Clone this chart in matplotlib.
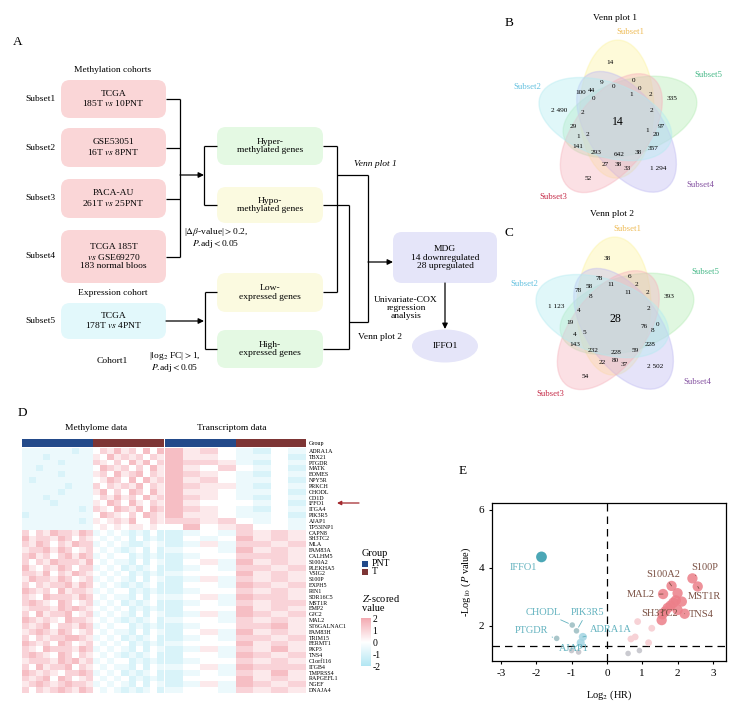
import numpy as np
import matplotlib.pyplot as plt
from matplotlib.patches import FancyBboxPatch, Ellipse, Rectangle
from matplotlib.colors import LinearSegmentedColormap, ListedColormap
import matplotlib as mpl

plt.rcParams['font.family'] = ['Liberation Serif', 'DejaVu Serif']
plt.rcParams['mathtext.fontset'] = 'stix'
plt.rcParams['axes.unicode_minus'] = False

W, H = 738, 708

# ---------------- data ----------------
venn1_counts = ['14', '9', '0', '0', '0', '100', '44', '0', '1', '2', '335', '2 490', '2', '2',
                '14', '29', '97', '1', '20', '1', '2', '141', '293', '642', '38', '357',
                '27', '38', '33', '1 294', '52']
venn2_counts = ['38', '78', '6', '11', '2', '78', '58', '8', '11', '2', '393', '1 123', '4', '2',
                '28', '19', '0', '76', '8', '4', '5', '143', '232', '228', '59', '228',
                '22', '80', '37', '2 502', '54']
venn_sets = ['Subset1', 'Subset5', 'Subset4', 'Subset3', 'Subset2']

genes = ['ADRA1A', 'TBX21', 'PTGDR', 'MATK', 'EOMES', 'NPY5R', 'PRKCH', 'CHODL', 'CD1D', 'IFFO1',
         'ITGA4', 'PIK3R5', 'AJAP1', 'TP53INP1', 'CAPN8', 'SH3TC2', 'MLA', 'FAM83A', 'CALHM5',
         'S100A2', 'PLEKHA5', 'VSIG2', 'S100P', 'EXPH5', 'RIN1', 'SDR16C5', 'MST1R', 'EMP2',
         'GJC2', 'MAL2', 'ST6GALNAC1', 'FAM83H', 'TRIM15', 'FERMT1', 'PKP3', 'TNS4', 'C1orf116',
         'ITGB4', 'TMPRSS4', 'RAPGEFL1', 'NGEF', 'DNAJA4']
meth_groups = ['PNT'] * 10 + ['T'] * 10
expr_groups = ['PNT'] * 4 + ['T'] * 4

# z-score codes: digit d -> (d - 4) / 2
meth_rows = [
    "33333332334657564747", "33323333335475656465", "33333233336546475746",
    "33233333334765646475", "33333233335647567465", "32333333334576474756",
    "33333323336465657465", "33333233335746476475", "33323333334657564756",
    "33332333335476475465", "33333333236547657476", "23333333334765464765",
    "33333333235456574465", "33333333334545455454",
    "64657665763434323242", "75665764654343424232", "65764657663434322343",
    "56675764564343234242", "67564675763434423232", "64657666574343324243",
    "75465764663434232342", "66574657654343423232", "57665764563434324243",
    "64656675764343232342", "76564756653434423232", "65476665764343324243",
    "67654764563434232342", "56665767654343423232", "64756674563434324243",
    "76565476654343232342", "65674665763434423232", "56765764564343324243",
    "64656677653434232342", "76564764564343423232", "65476665763434324243",
    "67654764654343232342", "56665767563434423232", "64756674654343324243",
    "76565466763434232342", "65674764564343423232", "56765676653434324243",
    "64656765764343232342",
]
expr_rows = [
    "75643243", "75543342", "76653243", "75464342", "76543243", "75643342", "76553243",
    "75543342", "76543243", "75444342", "76543243", "75543342", "66564343", "47456443",
    "23436565", "24347565", "23536656", "34437565", "23446665", "24537565", "23436656",
    "34447565", "23536565", "24437656", "23446565", "34537665", "23436566", "24447565",
    "23537656", "34436565", "23446675", "24537565", "23436656", "34447565", "23536575",
    "24437656", "23446565", "34537666", "23436575", "24447565", "23537656", "34436565",
]

vol_genes = ['IFFO1', 'CHODL', 'PIK3R5', 'PTGDR', 'ADRA1A', 'AJAP1', '', '', '', '',
             '', '', '', '', '',
             'S100P', 'MST1R', 'S100A2', 'MAL2', '', '', '', '', 'TNS4', 'SH3TC2',
             '', '', '', '', '']
vol_x = [-1.85, -0.98, -0.86, -1.42, -0.68, -0.74, -1.00, -0.80, 0.60, 0.92,
         0.68, 0.80, 0.87, 1.27, 1.18,
         2.42, 2.57, 1.83, 1.59, 2.00, 1.95, 2.12, 1.80, 2.20, 1.72,
         1.57, 1.55, 2.00, 1.88, 1.65]
vol_y = [4.38, 2.03, 1.83, 1.57, 1.62, 1.42, 1.15, 1.10, 1.05, 1.15,
         1.55, 1.62, 2.15, 1.92, 1.42,
         3.64, 3.36, 3.38, 3.10, 3.13, 2.88, 2.84, 2.70, 2.42, 2.62,
         2.40, 2.20, 2.55, 2.80, 2.50]
vol_kind = ['hub', 'down', 'down', 'down', 'down2', 'down2', 'ns', 'ns', 'ns', 'ns',
            'upw', 'upw', 'upw', 'upw', 'upw',
            'up', 'up', 'up', 'up', 'up', 'up', 'up', 'up', 'up', 'up',
            'up', 'up', 'up', 'up', 'up']

# ---------------- figure / canvas ----------------
fig = plt.figure(figsize=(W / 100, H / 100), dpi=100)
ax0 = fig.add_axes([0, 0, 1, 1])
ax0.set_xlim(0, W)
ax0.set_ylim(H, 0)
ax0.axis('off')


def fax(x0, y0, x1, y1):
    return fig.add_axes([x0 / W, 1 - y1 / H, (x1 - x0) / W, (y1 - y0) / H])


def box(x0, y0, x1, y1, color, text, fs=6.8, r=9):
    ax0.add_patch(FancyBboxPatch((x0, y0), x1 - x0, y1 - y0,
                                 boxstyle=f"round,pad=0,rounding_size={r}",
                                 fc=color, ec='none'))
    ax0.text((x0 + x1) / 2, (y0 + y1) / 2, text, ha='center', va='center',
             fontsize=fs, linespacing=1.05)


def line(xs, ys):
    ax0.plot(xs, ys, color='k', lw=0.9, solid_capstyle='butt')


def arrow(x0, y0, x1, y1):
    ax0.annotate('', xy=(x1, y1), xytext=(x0, y0),
                 arrowprops=dict(arrowstyle='-|>', color='k', lw=0.9,
                                 mutation_scale=8, shrinkA=0, shrinkB=0))


# ---------------- panel A ----------------
pink, cyan, green, yellow, lav = '#fad6d7', '#e2f8fb', '#e4f9e3', '#fbfae0', '#e5e5f9'
ax0.text(18, 42, 'A', fontsize=9.5, ha='center', va='center')
ax0.text(113, 70, 'Methylation cohorts', fontsize=6.8, ha='center', va='center')
cohorts = [('TCGA\n185T $vs$ 10PNT', 80, 118), ('GSE53051\n16T $vs$ 8PNT', 128, 167),
           ('PACA-AU\n261T $vs$ 25PNT', 179, 218),
           ('TCGA 185T\n$vs$ GSE69270\n183 normal bloos', 230, 283)]
for i, (t, y0, y1) in enumerate(cohorts):
    box(61, y0, 166, y1, pink, t)
    ax0.text(40, (y0 + y1) / 2, f'Subset{i + 1}', fontsize=6.8, ha='center', va='center')
    line([166, 180], [(y0 + y1) / 2] * 2)
line([180, 180], [99, 256.5])
arrow(180, 175, 204, 175)
line([204, 204], [146, 205])
line([204, 217], [146, 146])
line([204, 217], [205, 205])
box(217, 127, 323, 165, green, 'Hyper-\nmethylated genes')
box(217, 187, 323, 223, yellow, 'Hypo-\nmethylated genes')
ax0.text(216, 238, '|$\\Delta\\beta$-value|$>$0.2,\n$P$.adj$<$0.05', fontsize=6.8,
         ha='center', va='center', linespacing=1.0)

ax0.text(113, 293, 'Expression cohort', fontsize=6.8, ha='center', va='center')
box(61, 303, 166, 339, cyan, 'TCGA\n178T $vs$ 4PNT')
ax0.text(40, 321, 'Subset5', fontsize=6.8, ha='center', va='center')
ax0.text(112, 361, 'Cohort1', fontsize=6.8, ha='center', va='center')
ax0.text(175, 362, '|log$_2$ FC|$>$1,\n$P$.adj$<$0.05', fontsize=6.8,
         ha='center', va='center', linespacing=1.0)
arrow(166, 321, 204, 321)
line([205, 205], [292, 349])
line([205, 217], [292, 292])
line([205, 217], [349, 349])
box(217, 273, 323, 312, yellow, 'Low-\nexpressed genes')
box(217, 330, 323, 368, green, 'High-\nexpressed genes')

line([323, 337], [146, 146])
line([323, 337], [292, 292])
line([337, 337], [146, 292])
line([337, 368], [175, 175])
line([368, 368], [175, 322])
line([323, 349], [205, 205])
line([323, 349], [349, 349])
line([349, 349], [205, 349])
line([349, 368], [322, 322])
arrow(368, 262, 393, 262)
ax0.text(375, 164, 'Venn plot 1', fontsize=6.8, style='italic', ha='center', va='center')
ax0.text(380, 337, 'Venn plot 2', fontsize=6.8, ha='center', va='center')
box(393, 232, 497, 283, lav, 'MDG\n14 downregulated\n28 upregulated')
arrow(445, 283, 445, 329)
ax0.text(406, 308, 'Univariate-COX\nregression\nanalysis', fontsize=6.8,
         ha='center', va='center', linespacing=1.0)
ax0.add_patch(Ellipse((445, 346), 66, 33, fc=lav, ec='none'))
ax0.text(445, 346, 'IFFO1', fontsize=6.8, ha='center', va='center')

# ---------------- panels B, C (Venn) ----------------
venn_fill = ['#fdf3a0', '#b3ecb3', '#bfbaf2', '#f6b3bd', '#b3ebf1']
venn_text = ['#eebb55', '#45b887', '#8350a0', '#c52a47', '#62c0df']
set_label_off = [(12, -90), (90, -47), (82, 63), (-65, 75), (-91, -35)]
region_off = [(-8, -60), (-16, -40), (15, -42), (-4, -35), (21, -34), (-37, -29), (-26, -32),
              (-24, -23), (13, -27), (32, -27), (54, -23), (-59, -12), (-36, -9), (33, -11),
              (0, 0), (-45, 4), (43, 5), (29, 8), (38, 12), (-40, 15), (-31, 13), (-40, 25),
              (-22, 31), (1, 33), (20, 31), (35, 26), (-13, 43), (0, 42), (9, 46), (40, 47),
              (-30, 57)]


def venn(cx, cy, counts, title, letter, title_y, letter_xy):
    for k in range(5):
        phi = np.deg2rad(-95 + 72 * k)
        ex, ey = cx + 13 * np.cos(phi), cy + 13 * np.sin(phi)
        ax0.add_patch(Ellipse((ex, ey), 138, 74, angle=np.rad2deg(phi) + 6,
                              fc=venn_fill[k], ec=venn_fill[k], alpha=0.40, lw=1))
        dx, dy = set_label_off[k]
        ax0.text(cx + dx, cy + dy, venn_sets[k], color=venn_text[k], fontsize=6.3,
                 ha='center', va='center')
    for c, (dx, dy) in zip(counts, region_off):
        big = (dx, dy) == (0, 0)
        ax0.text(cx + dx, cy + dy, c, fontsize=8.5 if big else 5.2,
                 ha='center', va='center')
    ax0.text(cx - 3, title_y, title, fontsize=6.8, ha='center', va='center')
    ax0.text(*letter_xy, letter, fontsize=9.5, ha='center', va='center')


venn(618, 122, venn1_counts, 'Venn plot 1', 'B', 18, (509, 23))
venn(615, 319, venn2_counts, 'Venn plot 2', 'C', 214, (509, 233))

# ---------------- panel D (heatmap) ----------------
ax0.text(22, 413, 'D', fontsize=9.5, ha='center', va='center')
ax0.text(96, 428, 'Methylome data', fontsize=6.8, ha='center', va='center')
ax0.text(232, 428, 'Transcriptom data', fontsize=6.8, ha='center', va='center')

zmap = LinearSegmentedColormap.from_list('z', ['#b2e6f3', '#ffffff', '#f3a9b1'])
gmap = ListedColormap(['#234a8a', '#7d3535'])
meth = np.array([[(int(c) - 4) / 2 for c in r] for r in meth_rows])
expr = np.array([[(int(c) - 4) / 2 for c in r] for r in expr_rows])

blocks = [(meth, meth_groups, 22, 164), (expr, expr_groups, 165, 306)]
for mat, grp, x0, x1 in blocks:
    axg = fax(x0, 439, x1, 447)
    axg.pcolormesh(np.array([[0 if g == 'PNT' else 1 for g in grp]]), cmap=gmap, vmin=0, vmax=1)
    axg.set_xticks([])
    axg.set_yticks([])
    for s in axg.spines.values():
        s.set_visible(False)
    axh = fax(x0, 448, x1, 693)
    axh.pcolormesh(mat, cmap=zmap, vmin=-2, vmax=2)
    axh.set_ylim(len(genes), 0)
    axh.set_xticks([])
    axh.set_yticks([])
    for s in axh.spines.values():
        s.set_visible(False)
    last_g, last_h = axg, axh
last_h.yaxis.tick_right()
last_h.set_yticks(np.arange(len(genes)) + 0.5)
last_h.set_yticklabels(genes, fontsize=4.3)
last_h.tick_params(axis='y', length=0, pad=2)
last_g.yaxis.tick_right()
last_g.set_yticks([0.5])
last_g.set_yticklabels(['Group'], fontsize=4.3)
last_g.tick_params(axis='y', length=0, pad=2)

ax0.annotate('', xy=(337, 503), xytext=(359, 503),
             arrowprops=dict(arrowstyle='-|>', color='#a3282d', lw=0.9,
                             mutation_scale=6, shrinkA=0, shrinkB=0))

ax0.text(362, 553, 'Group', fontsize=7.5, ha='left', va='center')
ax0.add_patch(Rectangle((362, 561), 6, 6, fc='#234a8a', ec='none'))
ax0.add_patch(Rectangle((362, 568.5), 6, 6, fc='#7d3535', ec='none'))
ax0.text(372, 564, 'PNT', fontsize=7, ha='left', va='center')
ax0.text(372, 572, 'T', fontsize=7, ha='left', va='center')
ax0.text(362, 603, '$Z$-scored\nvalue', fontsize=7.5, ha='left', va='center', linespacing=1.0)
axc = fax(361, 618, 371, 666)
cb = fig.colorbar(mpl.cm.ScalarMappable(norm=mpl.colors.Normalize(-2, 2), cmap=zmap), cax=axc)
cb.set_ticks([2, 1, 0, -1, -2])
cb.ax.tick_params(labelsize=7, length=0, pad=1)
cb.outline.set_visible(False)

# ---------------- panel E (volcano) ----------------
ax0.text(463, 471, 'E', fontsize=9.5, ha='center', va='center')
axv = fax(492, 503, 726, 661)
styles = {'hub': ('#4ba7b6', 60, 1.0), 'down': ('#a9c6ca', 16, 1.0),
          'down2': ('#a6d6e4', 34, 0.9), 'ns': ('#cacad0', 16, 1.0),
          'upw': ('#f7d2d6', 24, 1.0), 'up': ('#ec7f89', 55, 0.85)}
for kind, (col, s, a) in styles.items():
    idx = [i for i, k in enumerate(vol_kind) if k == kind]
    axv.scatter([vol_x[i] for i in idx], [vol_y[i] for i in idx], s=s, color=col,
                alpha=a, edgecolors='none', zorder=3)
label_pos = {'IFFO1': (-2.37, 4.03), 'CHODL': (-1.8, 2.48), 'PIK3R5': (-0.56, 2.48),
             'PTGDR': (-2.14, 1.83), 'ADRA1A': (0.12, 1.86), 'AJAP1': (-0.95, 1.22),
             'S100P': (2.78, 4.02), 'MST1R': (2.75, 3.0), 'S100A2': (1.6, 3.78),
             'MAL2': (0.97, 3.08), 'TNS4': (2.67, 2.40), 'SH3TC2': (1.5, 2.43)}
for g, x, y in zip(vol_genes, vol_x, vol_y):
    if not g:
        continue
    col = '#62b2bf' if x < 0 else '#7a5043'
    arr = None if g == 'IFFO1' else dict(arrowstyle='-', color=col, lw=0.6, shrinkA=1, shrinkB=3)
    axv.annotate(g, xy=(x, y), xytext=label_pos[g], textcoords='data', color=col,
                 fontsize=7.5, ha='center', va='center', arrowprops=arr, zorder=4)
axv.axhline(1.3, color='k', lw=0.9, ls=(0, (6, 4)), zorder=2)
axv.axvline(0, color='k', lw=0.9, ls=(0, (6, 4)), zorder=2)
axv.set_xlim(-3.25, 3.37)
axv.set_ylim(0.79, 6.24)
axv.set_xticks([-3, -2, -1, 0, 1, 2, 3])
axv.set_yticks([2, 4, 6])
axv.tick_params(labelsize=8, length=2, width=0.8)
for s in axv.spines.values():
    s.set_linewidth(0.9)
axv.set_xlabel('Log$_2$ (HR)', fontsize=7.5, labelpad=8)
axv.set_ylabel('-Log$_{10}$ ($P$ value)', fontsize=7.5, labelpad=4)

fig.savefig('out.png', dpi=100)
